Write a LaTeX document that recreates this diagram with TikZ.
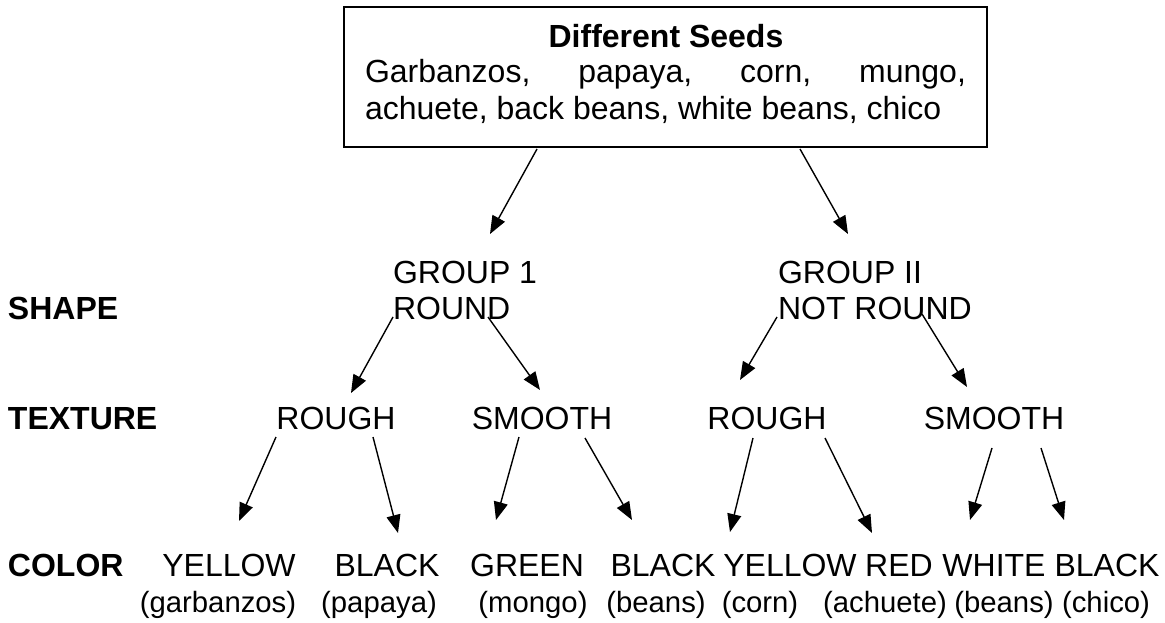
\documentclass[tikz,border=0pt]{standalone}
\usepackage{fontspec}
\setmainfont{Liberation Sans}
\usetikzlibrary{arrows.meta}

\begin{document}
\begin{tikzpicture}[x=1pt,y=-1pt,
  every node/.style={inner sep=0pt, outer sep=0pt, font=\fontsize{32pt}{36.8pt}\selectfont},
  label/.style={anchor=base west},
  centered/.style={anchor=base},
  seedname/.style={anchor=base, font=\fontsize{29.3pt}{34pt}\selectfont},
  rowhead/.style={anchor=base west, font=\fontsize{32pt}{36.8pt}\selectfont\bfseries},
  seedbox/.style={draw, line width=2pt, minimum width=643pt, minimum height=140pt, anchor=north west},
  arr/.style={line width=1.4pt, -{Triangle[length=18pt,width=14pt]}}]
\useasboundingbox (0,0) rectangle (1165,623);

% top box with the list of seeds
\node[seedbox] (seeds) at (344,7) {};
\node[centered, font=\fontsize{32pt}{36.8pt}\selectfont\bfseries] (title) at (666,48) {Different Seeds};
\node[label] (list1) at (365,83) {\makebox[601pt][s]{Garbanzos, papaya, corn, mungo,}};
\node[label] (list2) at (365,120) {achuete, back beans, white beans, chico};

% row headings
\node[rowhead] (shape) at (8,319) {SHAPE};
\node[rowhead] (texture) at (8,429) {TEXTURE};
\node[rowhead] (color) at (8,576) {COLOR};

% groups by shape
\node[label] (g1) at (393,283) {GROUP 1};
\node[label] (r1) at (393,319) {ROUND};
\node[label] (g2) at (778,283) {GROUP II};
\node[label] (r2) at (778,319) {NOT ROUND};

% texture
\node[centered] (rough1) at (336,429) {ROUGH};
\node[centered] (smooth1) at (542,429) {SMOOTH};
\node[centered] (rough2) at (767,429) {ROUGH};
\node[centered] (smooth2) at (994,429) {SMOOTH};

% colour
\node[centered] (c1) at (229,576) {YELLOW};
\node[centered] (c2) at (387,576) {BLACK};
\node[centered] (c3) at (527,576) {GREEN};
\node[centered] (c4) at (663,576) {BLACK};
\node[centered] (c5) at (790,576) {YELLOW};
\node[centered] (c6) at (899,576) {RED};
\node[centered] (c7) at (994,576) {WHITE};
\node[centered] (c8) at (1107,576) {BLACK};

\node[seedname] (s1) at (218,612) {(garbanzos)};
\node[seedname] (s2) at (379,612) {(papaya)};
\node[seedname] (s3) at (533,612) {(mongo)};
\node[seedname] (s4) at (656,612) {(beans)};
\node[seedname] (s5) at (760,612) {(corn)};
\node[seedname] (s6) at (885,612) {(achuete)};
\node[seedname] (s7) at (1004,612) {(beans)};
\node[seedname] (s8) at (1106,612) {(chico)};

% seeds -> groups
\draw[arr] ([shift={(193,2)}]seeds.south west) -- ([shift={(97,-49)}]g1.base west);
\draw[arr] ([shift={(456,2)}]seeds.south west) -- ([shift={(70,-49)}]g2.base west);

% groups -> texture
\draw[arr] ([shift={(0,-2)}]r1.base west) -- ([shift={(15,-36)}]rough1.base);
\draw[arr] ([shift={(95,-2)}]r1.base west) -- ([shift={(-2,-39)}]smooth1.base);
\draw[arr] ([shift={(-1,-2)}]r2.base west) -- ([shift={(-27,-49)}]rough2.base);
\draw[arr] ([shift={(144,-5)}]r2.base west) -- ([shift={(-27,-42)}]smooth2.base);

% texture -> colour
\draw[arr] ([shift={(-60,8)}]rough1.base) -- ([shift={(10,-55)}]c1.base);
\draw[arr] ([shift={(37,8)}]rough1.base) -- ([shift={(11,-43)}]c2.base);
\draw[arr] ([shift={(-23,8)}]smooth1.base) -- ([shift={(-31,-56)}]c3.base);
\draw[arr] ([shift={(43,9)}]smooth1.base) -- ([shift={(-31,-56)}]c4.base);
\draw[arr] ([shift={(-14,9)}]rough2.base) -- ([shift={(-60,-44)}]c5.base);
\draw[arr] ([shift={(58,9)}]rough2.base) -- ([shift={(-27,-43)}]c6.base);
\draw[arr] ([shift={(-2,19)}]smooth2.base) -- ([shift={(-24,-56)}]c7.base);
\draw[arr] ([shift={(47,19)}]smooth2.base) -- ([shift={(-43,-56)}]c8.base);
\end{tikzpicture}
\end{document}
